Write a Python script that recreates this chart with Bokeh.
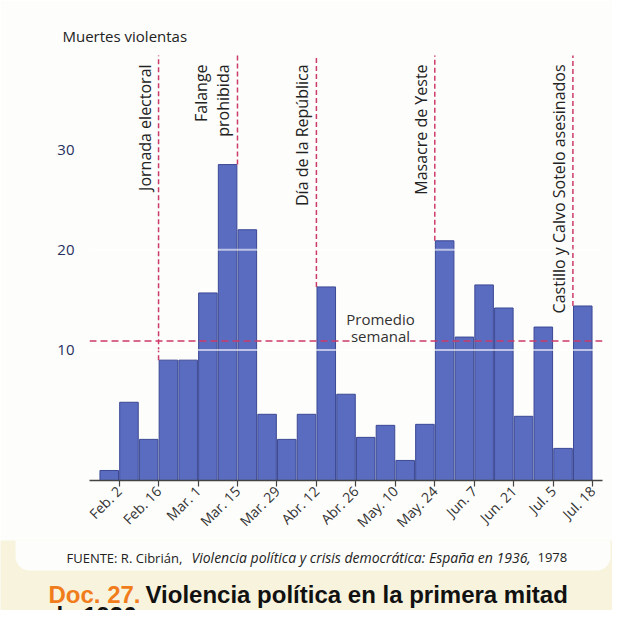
import math
from bokeh.plotting import figure
from bokeh.layouts import column
from bokeh.models import Span, Label, FixedTicker, BoxAnnotation, Title
from bokeh.embed import file_html
from bokeh.resources import INLINE

# ---------------- data ----------------
# weekly violent deaths (bar i covers the week ending at edge i)
deaths = [1.0, 7.8, 4.1, 12.0, 12.0, 18.7, 31.5, 25.0, 6.6, 4.1, 6.6, 19.3, 8.6,
          4.3, 5.5, 2.0, 5.6, 23.9, 14.3, 19.5, 17.2, 6.4, 15.3, 3.2, 17.4]
tick_weeks = [1, 3, 5, 7, 9, 11, 13, 15, 17, 19, 21, 23, 25]
tick_labels = ["Feb. 2", "Feb. 16", "Mar. 1", "Mar. 15", "Mar. 29", "Abr. 12", "Abr. 26",
               "May. 10", "May. 24", "Jun. 7", "Jun. 21", "Jul. 5", "Jul. 18"]
y_tick_pos = [13, 23, 33]
y_tick_labels = ["10", "20", "30"]
weekly_average = 13.9
event_week = [3, 7, 11, 17, 24]
event_text = [["Jornada electoral"], ["Falange", "prohibida"], ["Día de la República"],
              ["Masacre de Yeste"], ["Castillo y Calvo Sotelo asesinados"]]

# ---------------- layout helpers ----------------
W = 612
HA, HB = 540, 70
FRAME_L, FRAME_R, FRAME_T, FRAME_B = 89, 602, 53, 483   # px in chart canvas
X0, X1 = -0.5, 25.5
PX_X = (FRAME_R - FRAME_L) / (X1 - X0)
PX_Y = 10.1
Y1 = (FRAME_B - FRAME_T) / PX_Y

def dx(px):
    return X0 + (px - FRAME_L) / PX_X

def dy(py):
    return (FRAME_B - py) / PX_Y

FONT = "Open Sans"
RED = "#cc3a68"
CARD = "#fdfdfb"
CREAM = "#f8f3dc"

p = figure(width=W, height=HA, x_range=(X0, X1), y_range=(0, Y1),
           output_backend="svg", toolbar_location=None,
           min_border_left=FRAME_L, min_border_right=W - FRAME_R,
           min_border_top=FRAME_T, min_border_bottom=HA - FRAME_B)
p.frame_align = False
p.outline_line_color = None
p.border_fill_color = CARD
p.background_fill_color = CARD
p.xgrid.visible = False
p.ygrid.visible = False

p.title = Title(text="Muertes violentas", align="left", offset=62 - FRAME_L, standoff=16,
                text_font=FONT, text_font_size="15px", text_font_style="normal",
                text_color="#222222")

# bars
p.vbar(x=[i + 0.5 for i in range(len(deaths))], top=deaths, bottom=0, width=0.94,
       fill_color="#5a6cc0", line_color="#3b4894", line_width=1)

# light gridlines over the bars
for t in y_tick_pos[:2]:
    p.add_layout(Span(location=t, dimension="width", line_color="white",
                      line_alpha=0.6, line_width=2))

# average line
p.add_layout(Span(location=weekly_average, dimension="width", line_color=RED,
                  line_dash="7 4", line_width=1.5))

# event lines
p.segment(x0=event_week, x1=event_week,
          y0=[max(deaths[w - 1], deaths[w]) for w in event_week],
          y1=[dy(55)] * len(event_week),
          line_color=RED, line_dash="5 3", line_width=1.5)

for w, lines in zip(event_week, event_text):
    n = len(lines)
    for k, txt in enumerate(lines):
        p.add_layout(Label(x=w, y=dy(64), text=txt, angle=math.pi / 2,
                           text_align="right", text_baseline="bottom",
                           x_offset=-3 - 22 * (n - 1 - k),
                           text_font=FONT, text_font_size="16px", text_color="#222222"))

p.add_layout(Label(x=dx(380), y=dy(320), text="Promedio", text_align="center",
                   text_baseline="middle", text_font=FONT, text_font_size="15px",
                   text_color="#333333"))
p.add_layout(Label(x=dx(380), y=dy(337), text="semanal", text_align="center",
                   text_baseline="middle", text_font=FONT, text_font_size="15px",
                   text_color="#333333", background_fill_color=CARD))

# axes
p.yaxis.ticker = FixedTicker(ticks=y_tick_pos)
p.yaxis.major_label_overrides = dict(zip(y_tick_pos, y_tick_labels))
p.yaxis.axis_line_color = None
p.yaxis.major_tick_line_color = None
p.yaxis.minor_tick_line_color = None
p.yaxis.major_label_standoff = 9
p.yaxis.major_label_text_font = FONT
p.yaxis.major_label_text_font_size = "15px"
p.yaxis.major_label_text_color = "#26305e"

p.xaxis.ticker = FixedTicker(ticks=tick_weeks)
p.xaxis.major_label_overrides = dict(zip(tick_weeks, tick_labels))
p.xaxis.major_label_orientation = math.pi / 4
p.xaxis.axis_line_color = "#444444"
p.xaxis.axis_line_width = 1.5
p.xaxis.major_tick_line_color = "#444444"
p.xaxis.major_tick_line_width = 1.2
p.xaxis.major_tick_out = 6
p.xaxis.major_tick_in = 0
p.xaxis.minor_tick_line_color = None
p.xaxis.major_label_standoff = 2
p.xaxis.major_label_text_font = FONT
p.xaxis.major_label_text_font_size = "14px"
p.xaxis.major_label_text_color = "#333333"

# ---------------- caption strip ----------------
q = figure(width=W, height=HB, x_range=(0, W), y_range=(0, HB),
           output_backend="svg", toolbar_location=None, min_border=0)
q.frame_align = False
q.outline_line_color = None
q.border_fill_color = CREAM
q.background_fill_color = CREAM
q.xaxis.visible = False
q.yaxis.visible = False
q.xgrid.visible = False
q.ygrid.visible = False

def by(py):
    return HA + HB - py

q.add_layout(BoxAnnotation(left=15, right=610, top=HB + 40, bottom=by(570),
                           fill_color=CARD, fill_alpha=1.0, line_color=None,
                           level="underlay", border_radius=14))

q.add_layout(Label(x=66, y=by(557), text="FUENTE: R. Cibrián,", text_baseline="middle",
                   text_font=FONT, text_font_size="13px", text_color="#222222"))
q.add_layout(Label(x=191, y=by(557),
                   text="Violencia política y crisis democrática: España en 1936,",
                   text_baseline="middle", text_font=FONT, text_font_size="14px",
                   text_font_style="italic", text_color="#222222"))
q.add_layout(Label(x=537, y=by(557), text="1978", text_baseline="middle",
                   text_font=FONT, text_font_size="13px", text_color="#222222"))

TFONT = "Liberation Sans"
q.add_layout(Label(x=48, y=by(594), text="Doc. 27.", text_baseline="middle",
                   text_font=TFONT, text_font_size="24px", text_font_style="bold",
                   text_color="#f07c1c"))
q.add_layout(Label(x=145, y=by(594), text="Violencia política en la primera mitad",
                   text_baseline="middle", text_font=TFONT, text_font_size="24px",
                   text_font_style="bold", text_color="#111111"))
q.add_layout(Label(x=48, y=by(615), text="de 1936", text_baseline="middle",
                   text_font=TFONT, text_font_size="24px", text_font_style="bold",
                   text_color="#111111"))

layout = column(p, q, spacing=0)
open("out.html", "w").write(file_html(layout, INLINE))
